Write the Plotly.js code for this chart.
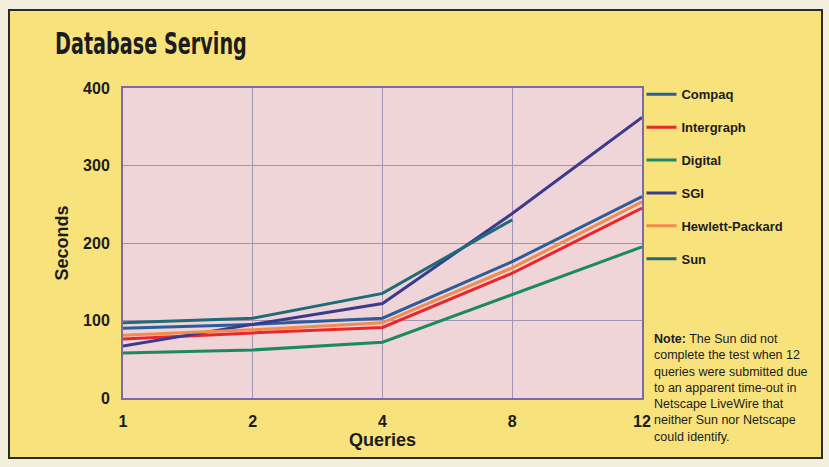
<!DOCTYPE html>
<html>
<head>
<meta charset="utf-8">
<script src="https://cdn.plot.ly/plotly-3.0.1.min.js"></script>
<style>
  html, body { margin:0; padding:0; width:829px; height:467px; background:#f4efdc; overflow:hidden; }
  #frame { position:absolute; left:8px; top:9px; width:811px; height:446px; border:2px solid #2a2a2a; background:#f8e27c; }
  #chart { position:absolute; left:0; top:0; width:829px; height:467px; }
  #chart .gtitle { transform: scaleX(0.62); transform-origin: 55px 0px; }
</style>
</head>
<body>
<div id="frame"></div>
<div id="chart"></div>
<script>
// ---- data ----
const queries = ['1', '2', '4', '8', '12'];
const compaq     = [90, 95, 103, 176, 260];
const intergraph = [76, 84, 91, 161, 245];
const digital    = [58, 62, 72, 133, 195];
const sgi        = [67, 95, 122, 238, 362];
const hp         = [81, 88, 97, 168, 253];
const sun        = [97, 103, 135, 230, null];
const seriesNames = ['Compaq', 'Intergraph', 'Digital', 'SGI', 'Hewlett-Packard', 'Sun'];
const yTicks = [0, 100, 200, 300, 400];

const colors = ['#2d5c9a', '#e8262c', '#1b8a5c', '#3b3a8e', '#f28c4e', '#1f6b78'];
const seriesValues = [compaq, intergraph, digital, sgi, hp, sun];

const fam = '"DejaVu Sans", sans-serif';
const narrow = '"Liberation Sans", Arial, sans-serif';

const traces = seriesNames.map((name, i) => ({
  type: 'scatter',
  mode: 'lines',
  name: name,
  x: queries,
  y: seriesValues[i],
  legendgroup: name,
  line: { color: colors[i], width: 3 },
  connectgaps: false
}));

const layout = {
  width: 829, height: 467,
  paper_bgcolor: 'rgba(0,0,0,0)',
  plot_bgcolor: '#efd4d8',
  margin: { l: 123, r: 187, t: 88, b: 69 },
  title: {
    text: '<b>Database Serving</b>',
    xref: 'container', x: 55 / 829, xanchor: 'left',
    yref: 'container', y: 1 - 32 / 467, yanchor: 'top',
    font: { family: fam, size: 31, color: '#1c1c1c' }
  },
  xaxis: {
    type: 'category',
    range: [0, 4],
    showgrid: true, gridcolor: '#a494b4', gridwidth: 1,
    showline: true, linecolor: '#7a6aa6', linewidth: 2, mirror: true,
    ticks: '', zeroline: false,
    tickfont: { family: narrow, size: 16, color: '#1c1c1c', weight: 'bold' },
    ticklabelstandoff: 8,
    title: { text: '<b>Queries</b>', font: { family: narrow, size: 18, color: '#1c1c1c' }, standoff: 4 }
  },
  yaxis: {
    range: [0, 400],
    tickvals: yTicks,
    showgrid: true, gridcolor: '#a494b4', gridwidth: 1,
    showline: true, linecolor: '#7a6aa6', linewidth: 2, mirror: true,
    ticks: '', zeroline: false,
    tickfont: { family: narrow, size: 16, color: '#1c1c1c', weight: 'bold' },
    ticklabelstandoff: 8,
    title: { text: '<b>Seconds</b>', font: { family: narrow, size: 18, color: '#1c1c1c' }, standoff: 10 }
  },
  showlegend: true,
  legend: {
    x: 0.999, xanchor: 'left', y: 1.028, yanchor: 'top',
    bgcolor: 'rgba(0,0,0,0)',
    font: { family: narrow, size: 13, color: '#1c1c1c', weight: 'bold' },
    tracegroupgap: 13,
    itemwidth: 30
  },
  annotations: [{
    xref: 'paper', yref: 'paper',
    x: 1.02, y: 0.22, xanchor: 'left', yanchor: 'top',
    align: 'left', showarrow: false,
    font: { family: narrow, size: 12.5, color: '#1c1c1c' },
    text: '<b>Note:</b> The Sun did not<br>complete the test when 12<br>queries were submitted due<br>to an apparent time-out in<br>Netscape LiveWire that<br>neither Sun nor Netscape<br>could identify.'
  }]
};

Plotly.newPlot('chart', traces, layout, { displayModeBar: false, staticPlot: true });
</script>
</body>
</html>
